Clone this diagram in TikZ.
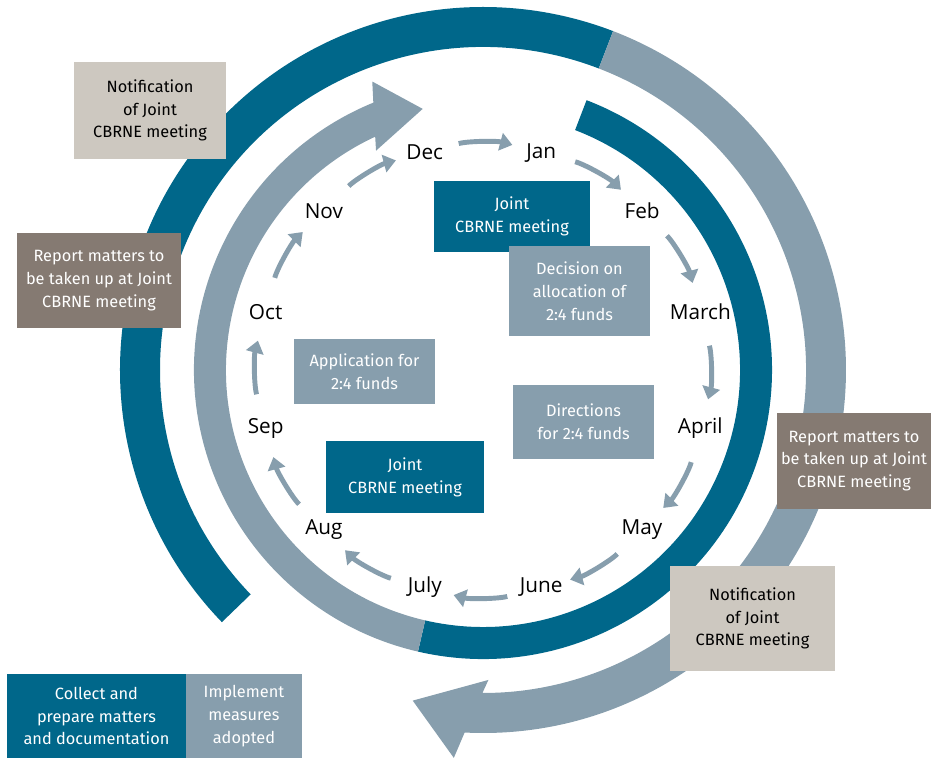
\documentclass[tikz,border=0pt]{standalone}
\usepackage{fontspec}
\setmainfont{Fira Sans}
\newfontfamily\monthfont{Open Sans}
\usetikzlibrary{positioning}
\usetikzlibrary{arrows.meta}
\definecolor{cbdark}{HTML}{00678A}
\definecolor{cblight}{HTML}{879EAD}
\definecolor{cbbeige}{HTML}{CDC8C0}
\definecolor{cbtaupe}{HTML}{857A72}
\tikzset{
  mybox/.style={
    shape=rectangle,
    align=center,
    inner sep=2pt,
    text=white,
    font=\fontsize{9.3}{13}\selectfont
  },
  darkbox/.style={mybox, fill=cbdark},
  lightbox/.style={mybox, fill=cblight},
  taupebox/.style={mybox, fill=cbtaupe},
  beigebox/.style={mybox, fill=cbbeige, text=black},
  mymonth/.style={
    inner sep=1pt,
    font=\monthfont\fontsize{11.8}{13}\selectfont
  },
  myarrow/.style={
    draw=cblight,
    line width=2.8pt,
    -{Triangle[length=7pt,width=10pt]},
    shorten <=20pt,
    shorten >=17pt,
    bend left=15
  }
}

\begin{document}
\begin{tikzpicture}[x=0.02cm, y=0.02cm]
  \useasboundingbox (-483,-388) rectangle (448,370);

  % outer ring
  \fill [cbdark] (69:323) arc[start angle=69, end angle=224, radius=323]
    -- (224:363) arc[start angle=224, end angle=69, radius=363] -- cycle;
  \fill [cblight] (69:323) arc[start angle=69, end angle=-90.1, radius=323]
    -- (-89:310) -- (-102:338) -- (-94.3:389)
    -- (-92.9:363) arc[start angle=-92.9, end angle=69, radius=363] -- cycle;

  % inner ring
  \fill [cbdark] (69:257) arc[start angle=69, end angle=-103, radius=257]
    -- (-103:289) arc[start angle=-103, end angle=69, radius=289] -- cycle;
  \fill [cblight] (257:257) arc[start angle=257, end angle=114.8, radius=257]
    -- (116:244) -- (103:268) -- (111:309)
    -- (112.3:289) arc[start angle=112.3, end angle=257, radius=289] -- cycle;

  % months
  \node [mymonth] (dec) at (105:225) {Dec};
  \node [mymonth] (jan) at (75:225) {Jan};
  \node [mymonth] (feb) at (45:225) {Feb};
  \node [mymonth] (march) at (15:225) {March};
  \node [mymonth] (april) at (-15:225) {April};
  \node [mymonth] (may) at (-45:225) {May};
  \node [mymonth] (june) at (-75:225) {June};
  \node [mymonth] (july) at (-105:225) {July};
  \node [mymonth] (aug) at (-135:225) {Aug};
  \node [mymonth] (sep) at (-165:225) {Sep};
  \node [mymonth] (oct) at (165:225) {Oct};
  \node [mymonth] (nov) at (135:225) {Nov};
  \foreach \a/\b in {dec/jan, jan/feb, feb/march, march/april, april/may, may/june,
                     june/july, july/aug, aug/sep, sep/oct, oct/nov, nov/dec}
    \draw [myarrow] (\a.center) to (\b.center);

  % boxes
  \node [beigebox, minimum width=3.04cm, minimum height=1.94cm] (notifA) at (-333,259.5)
    {Notification\\of Joint\\CBRNE meeting};
  \node [taupebox, minimum width=3.28cm, minimum height=1.9cm] (reportA) at (-384,89.5)
    {Report matters to\\be taken up at Joint\\CBRNE meeting};
  \node [darkbox, minimum width=3.12cm, minimum height=1.42cm] (jointA) at (29,153.5)
    {Joint\\CBRNE meeting};
  \node [lightbox, minimum width=2.82cm, minimum height=1.8cm] (decision) at (96.5,79)
    {Decision on\\allocation of\\2:4 funds};
  \node [lightbox, minimum width=2.82cm, minimum height=1.3cm] (application) at (-118.5,-1.5)
    {Application for\\2:4 funds};
  \node [lightbox, minimum width=2.82cm, minimum height=1.48cm] (directions) at (100.5,-52)
    {Directions\\for 2:4 funds};
  \node [darkbox, minimum width=3.16cm, minimum height=1.44cm] (jointB) at (-78,-107)
    {Joint\\CBRNE meeting};
  \node [taupebox, minimum width=3.08cm, minimum height=1.92cm] (reportB) at (371,-91)
    {Report matters to\\be taken up at Joint\\CBRNE meeting};
  \node [beigebox, minimum width=3.3cm, minimum height=2.1cm] (notifB) at (269.5,-248.5)
    {Notification\\of Joint\\CBRNE meeting};

  % legend
  \node [darkbox, minimum width=3.58cm, minimum height=1.68cm] (collect) at (-386.5,-346)
    {Collect and\\prepare matters\\and documentation};
  \node [lightbox, minimum width=2.32cm, minimum height=1.68cm, right=-0.4pt of collect] (implement)
    {Implement\\measures\\adopted};
\end{tikzpicture}
\end{document}
